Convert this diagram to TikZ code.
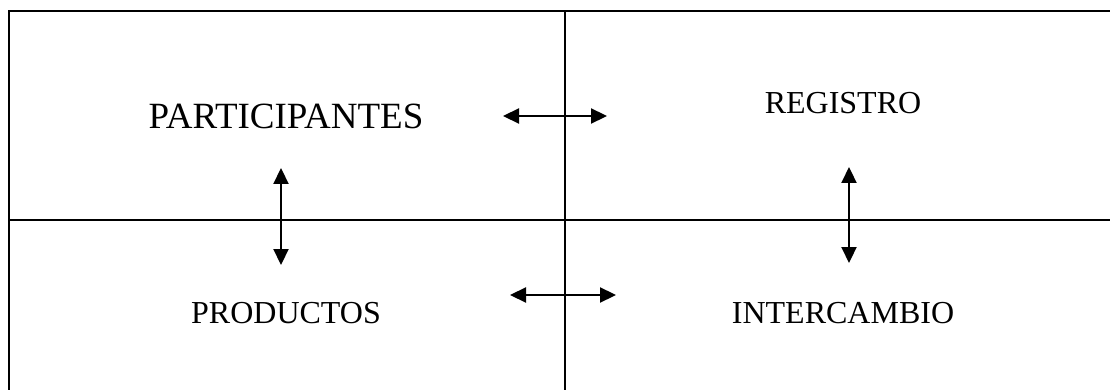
\documentclass[tikz,border=0pt]{standalone}
\usepackage{fontspec}
\setmainfont{Liberation Serif}
\usetikzlibrary{positioning,arrows.meta}

\begin{document}
\begin{tikzpicture}[x=1pt, y=-1pt,
            marco/.style={line width=2.4pt},
            titulo/.style={anchor=base, inner sep=0pt, font=\fontsize{32}{38}\selectfont},
            grande/.style={titulo, font=\fontsize{37}{44}\selectfont},
            flecha/.style={line width=2.2pt, {Triangle[length=16pt,width=15pt]}-{Triangle[length=16pt,width=15pt]}}]

            \useasboundingbox (0,0) rectangle (1110,390);

            % cuadro
            \draw[marco] (9,391) -- (9,11) -- (1111,11);
            \draw[marco] (9,220) -- (1111,220);
            \draw[marco] (565,11) -- (565,391);

            \node[grande] (part) at (286,129) {PARTICIPANTES};
            \node[titulo] (reg) at (843,114) {REGISTRO};
            \node[titulo] (prod) at (286,323) {PRODUCTOS};
            \node[titulo] (inter) at (843,323) {INTERCAMBIO};

            \coordinate (a1) at (503,116);
            \coordinate (a2) at (607,116);
            \coordinate (b1) at (281,168);
            \coordinate (b2) at (281,265);
            \coordinate (c1) at (849,167);
            \coordinate (c2) at (849,263);
            \coordinate (d1) at (510,295);
            \coordinate (d2) at (616,295);

            \draw[flecha] (a1) -- (a2);
            \draw[flecha] (b1) -- (b2);
            \draw[flecha] (c1) -- (c2);
            \draw[flecha] (d1) -- (d2);
        \end{tikzpicture}
\end{document}
